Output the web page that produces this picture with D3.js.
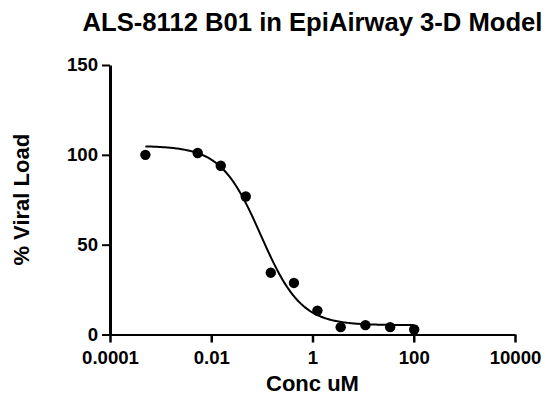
<!DOCTYPE html>
<html>
<head>
<meta charset="utf-8">
<script src="https://cdn.jsdelivr.net/npm/d3@7"></script>
<style>
  body { margin: 0; background: #fff; }
  svg text { font-family: "Liberation Sans", Arial, sans-serif; font-weight: bold; fill: #000; }
</style>
</head>
<body>
<div id="chart"></div>
<script>
// measured points (concentration in uM, % viral load)
const concentrations = [0.0005, 0.0054, 0.0154, 0.048, 0.15, 0.43, 1.25, 3.6, 11.1, 34.2, 102]
const viralLoad = [100, 101, 93.9, 76.8, 34.4, 28.7, 13.3, 4.1, 5.2, 4.1, 2.8]

// four-parameter logistic fit
const fitTop = 105
const fitBottom = 5.2
const fitIC50 = 0.096
const fitHill = 1.1
const fitRange = [0.0005, 100]

const xTicks = [0.0001, 0.01, 1, 100, 10000]
const xTickLabels = ['0.0001', '0.01', '1', '100', '10000']
const yTicks = [0, 50, 100, 150]

const title = 'ALS-8112 B01 in EpiAirway 3-D Model'
const xTitle = 'Conc uM'
const yTitle = '% Viral Load'

// outer svg dimensions
const width = 549
const height = 396
const margin = { top: 65, right: 34, bottom: 61.5, left: 110 }
const plotW = width - margin.left - margin.right
const plotH = height - margin.top - margin.bottom

const xScale = d3.scaleLog().domain([xTicks[0], xTicks[xTicks.length - 1]]).range([0, plotW])
const yScale = d3.scaleLinear().domain([0, 150]).range([plotH, 0])

const svg = d3.select('#chart').append('svg').attr('width', width).attr('height', height)
const g = svg.append('g').attr('transform', `translate(${margin.left} ${margin.top})`)

// axes
const xAxis = d3.axisBottom(xScale)
  .tickValues(xTicks)
  .tickFormat((d, i) => xTickLabels[i])
  .tickSize(8).tickSizeOuter(0).tickPadding(8)
const yAxis = d3.axisLeft(yScale)
  .tickValues(yTicks)
  .tickSize(8).tickSizeOuter(0).tickPadding(4)

const gx = g.append('g').attr('transform', `translate(0 ${plotH})`).call(xAxis)
const gy = g.append('g').call(yAxis)

gx.select('.domain').attr('stroke', '#000').attr('stroke-width', 2)
gx.selectAll('.tick line').attr('stroke', '#000').attr('stroke-width', 2.5)
gy.select('.domain').attr('stroke', '#000').attr('stroke-width', 3)
gy.selectAll('.tick line').attr('stroke', '#000').attr('stroke-width', 2)
svg.selectAll('.tick text').attr('font-size', 18.6).attr('font-family', null).attr('fill', '#000')

// fitted curve
function logistic (x) {
  return fitBottom + (fitTop - fitBottom) / (1 + Math.pow(x / fitIC50, fitHill))
}
const lo = Math.log10(fitRange[0])
const hi = Math.log10(fitRange[1])
const curve = d3.range(0, 201).map(i => {
  const c = Math.pow(10, lo + (hi - lo) * i / 200)
  return [c, logistic(c)]
})
g.append('path')
  .datum(curve)
  .attr('fill', 'none')
  .attr('stroke', '#000')
  .attr('stroke-width', 2)
  .attr('d', d3.line().x(d => xScale(d[0])).y(d => yScale(d[1])))

// data points
g.append('g').selectAll('circle')
  .data(concentrations.map((c, i) => ({ c, v: viralLoad[i] })))
  .enter().append('circle')
  .attr('cx', d => xScale(d.c))
  .attr('cy', d => yScale(d.v))
  .attr('r', 5.2)
  .attr('fill', '#000')

// titles
svg.append('text')
  .attr('x', margin.left + plotW / 2).attr('y', 31)
  .attr('text-anchor', 'middle').attr('font-size', 25)
  .attr('textLength', 460).attr('lengthAdjust', 'spacingAndGlyphs')
  .text(title)

svg.append('text')
  .attr('x', margin.left + plotW / 2).attr('y', 391)
  .attr('text-anchor', 'middle').attr('font-size', 22)
  .text(xTitle)

svg.append('text')
  .attr('transform', `translate(28.5 ${margin.top + plotH / 2}) rotate(-90)`)
  .attr('text-anchor', 'middle').attr('font-size', 22)
  .text(yTitle)
</script>
</body>
</html>
